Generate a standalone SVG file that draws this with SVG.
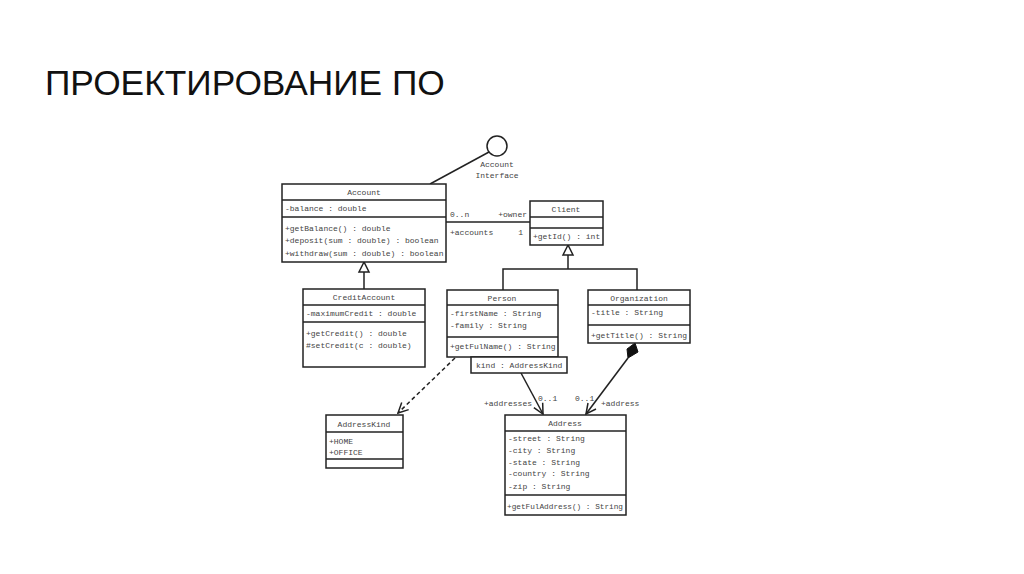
<svg xmlns="http://www.w3.org/2000/svg" width="1024" height="574" viewBox="0 0 1024 574">
<style>
.box{fill:#fff;stroke:#222;stroke-width:1.5}
.ln{stroke:#222;stroke-width:1.5;fill:none}
.t{font-family:"Liberation Mono","DejaVu Sans Mono",monospace;font-size:8px;fill:#444}
.c{text-anchor:middle}
.title{font-family:"Liberation Sans",Arial,sans-serif;font-size:35.3px;fill:#111}
</style>
<defs>
<marker id="open" viewBox="0 0 12 12" refX="11" refY="6" markerWidth="12" markerHeight="12" markerUnits="userSpaceOnUse" orient="auto">
<path d="M1,1 L11,6 L1,11" fill="none" stroke="#222" stroke-width="1.5"/>
</marker>
</defs>
<rect width="1024" height="574" fill="#fff"/>
<text class="title" x="45" y="95">ПРОЕКТИРОВАНИЕ ПО</text>

<g id="connectors">
<line class="ln" x1="489" y1="152" x2="430" y2="184"/>
<line class="ln" x1="446" y1="222" x2="530" y2="222"/>
<text class="t" x="450" y="217">0..n</text>
<text class="t" x="527" y="217" text-anchor="end">+owner</text>
<text class="t" x="450" y="235">+accounts</text>
<text class="t" x="523" y="235" text-anchor="end">1</text>
<polyline class="ln" points="364,289 364,272"/>
<polygon class="box" points="364,262 359,272 369,272"/>
<polyline class="ln" points="503,290 503,269 637,269 637,290"/>
<line class="ln" x1="568" y1="269" x2="568" y2="255"/>
<polygon class="box" points="568,245 563,255 573,255"/>
<line class="ln" x1="521" y1="373" x2="543" y2="414" marker-end="url(#open)"/>
<line class="ln" x1="628" y1="358" x2="586" y2="414" marker-end="url(#open)"/>
<polygon points="635,343 638,352 628,358 627,349" fill="#111" stroke="#111" stroke-width="1"/>
<line class="ln" x1="455" y1="358" x2="398" y2="413" stroke-dasharray="4,3" marker-end="url(#open)"/>
<text class="t" x="532" y="406" text-anchor="end">+addresses</text>
<text class="t" x="538" y="401">0..1</text>
<text class="t" x="575" y="401">0..1</text>
<text class="t" x="601" y="406">+address</text>
</g>

<g id="AccountInterface">
<circle cx="497" cy="146" r="10" fill="#fff" stroke="#222" stroke-width="1.5"/>
<text class="t c" x="497" y="167">Account</text>
<text class="t c" x="497" y="178">Interface</text>
</g>

<g id="Account">
<rect class="box" x="282" y="184" width="164" height="78"/>
<line class="ln" x1="282" y1="200" x2="446" y2="200"/>
<line class="ln" x1="282" y1="217" x2="446" y2="217"/>
<text class="t c" x="364" y="195">Account</text>
<text class="t" x="285" y="211">-balance : double</text>
<text class="t" x="285" y="231">+getBalance() : double</text>
<text class="t" x="285" y="243">+deposit(sum : double) : boolean</text>
<text class="t" x="285" y="256">+withdraw(sum : double) : boolean</text>
</g>

<g id="Client">
<rect class="box" x="530" y="201" width="73" height="44"/>
<line class="ln" x1="530" y1="217" x2="603" y2="217"/>
<line class="ln" x1="530" y1="228" x2="603" y2="228"/>
<text class="t c" x="566" y="212">Client</text>
<text class="t" x="533" y="239">+getId() : int</text>
</g>

<g id="CreditAccount">
<rect class="box" x="303" y="289" width="122" height="78"/>
<line class="ln" x1="303" y1="305" x2="425" y2="305"/>
<line class="ln" x1="303" y1="322" x2="425" y2="322"/>
<text class="t c" x="364" y="300">CreditAccount</text>
<text class="t" x="306" y="316">-maximumCredit : double</text>
<text class="t" x="306" y="336">+getCredit() : double</text>
<text class="t" x="306" y="348">#setCredit(c : double)</text>
</g>

<g id="Person">
<rect class="box" x="447" y="290" width="111" height="67"/>
<line class="ln" x1="447" y1="305" x2="558" y2="305"/>
<line class="ln" x1="447" y1="337" x2="558" y2="337"/>
<text class="t c" x="502" y="301">Person</text>
<text class="t" x="450" y="316">-firstName : String</text>
<text class="t" x="450" y="328">-family : String</text>
<text class="t" x="450" y="349">+getFulName() : String</text>
<rect class="box" x="471" y="357" width="96" height="16"/>
<text class="t" x="476" y="368">kind : AddressKind</text>
</g>

<g id="Organization">
<rect class="box" x="588" y="290" width="102" height="53"/>
<line class="ln" x1="588" y1="305" x2="690" y2="305"/>
<line class="ln" x1="588" y1="325" x2="690" y2="325"/>
<text class="t c" x="639" y="301">Organization</text>
<text class="t" x="591" y="315">-title : String</text>
<text class="t" x="591" y="338">+getTitle() : String</text>
</g>

<g id="AddressKind">
<rect class="box" x="326" y="415" width="77" height="53"/>
<line class="ln" x1="326" y1="432" x2="403" y2="432"/>
<line class="ln" x1="326" y1="459" x2="403" y2="459"/>
<text class="t c" x="364" y="427">AddressKind</text>
<text class="t" x="329" y="444">+HOME</text>
<text class="t" x="329" y="455">+OFFICE</text>
</g>

<g id="Address">
<rect class="box" x="505" y="415" width="121" height="100"/>
<line class="ln" x1="505" y1="431" x2="626" y2="431"/>
<line class="ln" x1="505" y1="495" x2="626" y2="495"/>
<text class="t c" x="565" y="426">Address</text>
<text class="t" x="508" y="441">-street : String</text>
<text class="t" x="508" y="453">-city : String</text>
<text class="t" x="508" y="465">-state : String</text>
<text class="t" x="508" y="476">-country : String</text>
<text class="t" x="508" y="489">-zip : String</text>
<text class="t" x="507" y="509" textLength="116" lengthAdjust="spacingAndGlyphs">+getFulAddress() : String</text>
</g>
</svg>
